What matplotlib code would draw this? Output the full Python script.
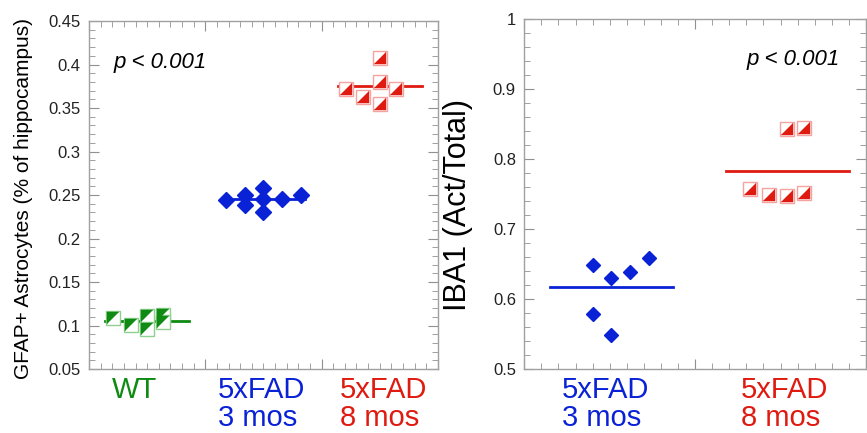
import numpy as np
import matplotlib
matplotlib.use("Agg")
import matplotlib.pyplot as plt
from matplotlib.ticker import MultipleLocator

plt.rcParams['font.family'] = ['Liberation Sans', 'DejaVu Sans']

GREEN = '#0f8a12'
BLUE = '#0a22d6'
RED = '#df1a10'

# Left panel: GFAP+ astrocytes
wt_x = [0.21, 0.36, 0.50, 0.50, 0.64, 0.64]
wt_y = [0.109, 0.101, 0.111, 0.096, 0.112, 0.104]
fad3_x = [1.18, 1.34, 1.34, 1.50, 1.50, 1.50, 1.66, 1.82]
fad3_y = [0.244, 0.250, 0.238, 0.258, 0.245, 0.231, 0.245, 0.250]
fad8_x = [2.21, 2.36, 2.50, 2.50, 2.50, 2.64]
fad8_y = [0.372, 0.363, 0.407, 0.380, 0.355, 0.372]
left_centers = [0.50, 1.50, 2.50]

# Right panel: IBA1 act/total
iba3_x = [0.40, 0.40, 0.51, 0.51, 0.62, 0.73]
iba3_y = [0.649, 0.579, 0.630, 0.549, 0.638, 0.659]
iba8_x = [1.32, 1.43, 1.54, 1.54, 1.64, 1.64]
iba8_y = [0.758, 0.749, 0.843, 0.748, 0.845, 0.752]
right_centers = [0.51, 1.54]

LL = [(-1, -1), (-1, 1), (1, 1)]   # upper-left filled triangle
LR = [(-1, -1), (1, -1), (1, 1)]   # lower-right filled triangle


def half_squares(ax, x, y, dark, light, tri, ms=10):
    ax.plot(x, y, ls='none', marker='s', ms=ms, mfc='white', mec=light, mew=1.0, zorder=3)
    ax.plot(x, y, ls='none', marker=tri, ms=ms - 0.8, mfc=dark, mec=dark, mew=0.3, zorder=4)


def mean_line(ax, c, y, color):
    ax.plot([c - 0.36, c + 0.36], [np.mean(y)] * 2, color=color, lw=2, zorder=2)


def style(ax):
    for s in ax.spines.values():
        s.set_color('#a0a0a0')
        s.set_linewidth(1.0)
    ax.tick_params(which='both', direction='in', top=True, right=True,
                   colors='#909090', labelcolor='#222222', labelsize=12, pad=6)
    ax.tick_params(which='major', length=7)
    ax.tick_params(which='minor', length=4)
    ax.xaxis.set_major_locator(MultipleLocator(1))
    ax.xaxis.set_minor_locator(MultipleLocator(0.1))
    ax.set_xticklabels([])


fig = plt.figure(figsize=(8.67, 4.33), dpi=100)

ax1 = fig.add_axes([0.1027, 0.1478, 0.4023, 0.8037])
mean_line(ax1, left_centers[0], wt_y, GREEN)
mean_line(ax1, left_centers[1], fad3_y, BLUE)
mean_line(ax1, left_centers[2], fad8_y, RED)
half_squares(ax1, wt_x, wt_y, GREEN, '#8fd08f', LL)
ax1.plot(fad3_x, fad3_y, ls='none', marker='D', ms=7.8, color=BLUE, zorder=3)
half_squares(ax1, fad8_x, fad8_y, RED, '#f5a3a0', LR)
ax1.set_xlim(0, 3)
ax1.set_ylim(0.05, 0.45)
style(ax1)
ax1.yaxis.set_major_locator(MultipleLocator(0.05))
ax1.yaxis.set_minor_locator(MultipleLocator(0.01))
ax1.set_yticks(np.arange(0.05, 0.451, 0.05))
ax1.set_yticklabels(['0.05', '0.1', '0.15', '0.2', '0.25', '0.3', '0.35', '0.4', '0.45'])
ax1.set_ylabel('GFAP+ Astrocytes (% of hippocampus)', fontsize=15)
ax1.yaxis.set_label_coords(-0.16, 0.49)
ax1.text(0.07, 0.88, 'p < 0.001', transform=ax1.transAxes, fontsize=16,
         style='italic', ha='left', va='center')
tr1 = ax1.get_xaxis_transform()
ax1.text(0.20, -0.02, 'WT', transform=tr1, ha='left', va='top', fontsize=21, color=GREEN)
ax1.text(1.11, -0.02, '5xFAD\n3 mos', transform=tr1, ha='left', va='top', fontsize=21,
         color=BLUE, linespacing=1.0)
ax1.text(2.16, -0.02, '5xFAD\n8 mos', transform=tr1, ha='left', va='top', fontsize=21,
         color=RED, linespacing=1.0)

ax2 = fig.add_axes([0.6047, 0.1478, 0.3941, 0.8076])
mean_line(ax2, right_centers[0], iba3_y, BLUE)
mean_line(ax2, right_centers[1], iba8_y, RED)
ax2.plot(iba3_x, iba3_y, ls='none', marker='D', ms=7.5, color=BLUE, zorder=3)
half_squares(ax2, iba8_x, iba8_y, RED, '#f5a3a0', LR)
ax2.set_xlim(0, 2)
ax2.set_ylim(0.5, 1.0)
style(ax2)
ax2.yaxis.set_major_locator(MultipleLocator(0.1))
ax2.yaxis.set_minor_locator(MultipleLocator(0.02))
ax2.set_yticks([0.5, 0.6, 0.7, 0.8, 0.9, 1.0])
ax2.set_yticklabels(['0.5', '0.6', '0.7', '0.8', '0.9', '1'])
ax2.set_ylabel('IBA1 (Act/Total)', fontsize=22)
ax2.yaxis.set_label_coords(-0.15, 0.47)
ax2.text(0.65, 0.885, 'p < 0.001', transform=ax2.transAxes, fontsize=16,
         style='italic', ha='left', va='center')
tr2 = ax2.get_xaxis_transform()
ax2.text(0.22, -0.02, '5xFAD\n3 mos', transform=tr2, ha='left', va='top', fontsize=21,
         color=BLUE, linespacing=1.0)
ax2.text(1.27, -0.02, '5xFAD\n8 mos', transform=tr2, ha='left', va='top', fontsize=21,
         color=RED, linespacing=1.0)

fig.savefig('out.png', dpi=100)
